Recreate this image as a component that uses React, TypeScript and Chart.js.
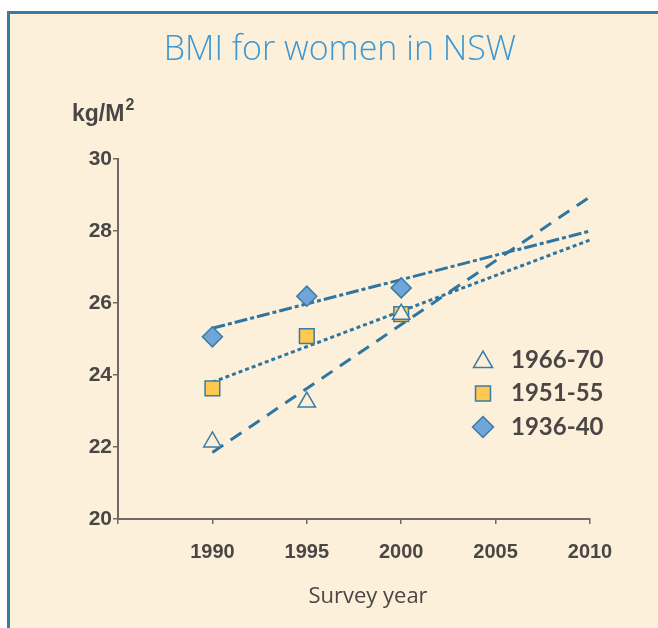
import React, { useEffect, useRef } from 'react';
import { Chart, registerables } from 'chart.js';
import { drawPoint } from 'chart.js/helpers';

Chart.register(...registerables);

const titleText = 'BMI for women in NSW';
const yUnit = 'kg/M';
const yUnitSup = '2';
const xTitle = 'Survey year';
const surveyYears = [1990, 1995, 2000];
const seriesLabels = ['1966-70', '1951-55', '1936-40'];
const bmi196670 = [22.14, 23.25, 25.69];
const bmi195155 = [23.63, 25.08, 25.69];
const bmi193640 = [25.06, 26.19, 26.42];
const trendYears = [1990, 2010];
const trend196670 = [21.85, 28.95];
const trend195155 = [23.8, 27.75];
const trend193640 = [25.3, 28.0];
const xTickLabels = [1990, 1995, 2000, 2005, 2010];

const CREAM = '#FDF0DB';
const FRAME = '#3C7BA0';
const LINE = '#2E76A0';
const MARK_BORDER = '#3A7CA5';
const TEXT = '#4B4646';
const AXIS = '#6E6964';

const toPts = (xs: number[], ys: number[]) => xs.map((x, i) => ({ x, y: ys[i] }));

const markerStyles = [
  { pointStyle: 'triangle', fill: CREAM, radius: 10, legendRadius: 11 },
  { pointStyle: 'rect', fill: '#FFC850', radius: 10.4, legendRadius: 10.6 },
  { pointStyle: 'rectRot', fill: '#6FA5D8', radius: 10, legendRadius: 10.5 },
];

const textPlugin = {
  id: 'texts',
  afterDraw(chart: any) {
    const ctx = chart.ctx as CanvasRenderingContext2D;
    ctx.save();
    // title
    ctx.fillStyle = '#3A98D5';
    ctx.font = '300 34px "Open Sans"';
    ctx.textAlign = 'center';
    ctx.textBaseline = 'alphabetic';
    ctx.fillText(titleText, 340, 60);
    // y unit
    ctx.fillStyle = TEXT;
    ctx.textAlign = 'left';
    ctx.font = 'bold 23px "Liberation Sans"';
    ctx.fillText(yUnit, 72, 121);
    const w = ctx.measureText(yUnit).width;
    ctx.font = 'bold 16px "Liberation Sans"';
    ctx.fillText(yUnitSup, 72 + w + 1, 110);
    // x title
    ctx.font = '22px "Open Sans"';
    ctx.textAlign = 'center';
    ctx.textBaseline = 'middle';
    ctx.fillText(xTitle, 368, 597);
    // legend
    const rows = [360, 393.5, 427];
    seriesLabels.forEach((lab, i) => {
      const m = markerStyles[i];
      ctx.fillStyle = m.fill;
      ctx.strokeStyle = MARK_BORDER;
      ctx.lineWidth = 1.5;
      drawPoint(ctx, { pointStyle: m.pointStyle as any, rotation: 0, radius: m.legendRadius, borderWidth: 1.5 }, 483, rows[i] + (i === 0 ? 2 : 0));
      ctx.fillStyle = TEXT;
      ctx.font = 'bold 24px Lato';
      ctx.textAlign = 'left';
      ctx.textBaseline = 'middle';
      ctx.fillText(lab, 511, rows[i]);
    });
    ctx.restore();
  },
};

export default function App() {
  const ref = useRef<HTMLCanvasElement>(null);
  useEffect(() => {
    const seriesData = [bmi196670, bmi195155, bmi193640];
    const trends = [trend196670, trend195155, trend193640];
    const dashes = [[13, 9], [4, 3], [13, 3, 4, 3]];
    const datasets: any[] = [];
    seriesData.forEach((vals, i) => {
      const m = markerStyles[i];
      datasets.push({
        label: seriesLabels[i],
        data: toPts(surveyYears, vals),
        showLine: false,
        pointStyle: m.pointStyle,
        pointRadius: m.radius,
        pointBackgroundColor: m.fill,
        pointBorderColor: MARK_BORDER,
        pointBorderWidth: 1.5,
        order: 0,
      });
    });
    trends.forEach((vals, i) => {
      datasets.push({
        label: seriesLabels[i] + ' trend',
        data: toPts(trendYears, vals),
        showLine: true,
        borderColor: LINE,
        borderWidth: 3,
        borderDash: dashes[i],
        pointRadius: 0,
        order: 1,
      });
    });
    const chart = new Chart(ref.current!, {
      type: 'scatter',
      data: { datasets },
      options: {
        responsive: false,
        animation: false,
        layout: { padding: { top: 159, right: 68, left: 0, bottom: 0 } },
        plugins: { legend: { display: false }, tooltip: { enabled: false }, title: { display: false } },
        scales: {
          x: {
            type: 'linear',
            min: 1985,
            max: 2010,
            afterFit: (s: any) => { s.height = 109; },
            afterBuildTicks: (s: any) => { s.ticks = [1985, ...xTickLabels].map((v) => ({ value: v })); },
            ticks: {
              callback: (v: any) => (xTickLabels.includes(Number(v)) ? String(v) : ''),
              color: TEXT,
              font: { family: '"Liberation Sans"', size: 20, weight: 'bold' },
              padding: 16,
              maxRotation: 0,
              autoSkip: false,
            },
            grid: { drawOnChartArea: false, drawTicks: true, tickLength: 5, color: AXIS, lineWidth: 1.5 },
            border: { color: AXIS, width: 2 },
          },
          y: {
            type: 'linear',
            min: 20,
            max: 30,
            afterFit: (s: any) => { s.width = 118; },
            ticks: {
              stepSize: 2,
              color: TEXT,
              font: { family: '"Liberation Sans"', size: 21, weight: 'bold' },
              padding: 1,
            },
            grid: { drawOnChartArea: false, drawTicks: true, tickLength: 5, color: AXIS, lineWidth: 1.5 },
            border: { color: AXIS, width: 2 },
          },
        },
      },
      plugins: [textPlugin],
    } as any);
    return () => chart.destroy();
  }, []);
  return (
    <div style={{ position: 'fixed', left: 0, top: 0, width: 658, height: 628, background: '#fff', overflow: 'hidden' }}>
      <div style={{ position: 'absolute', left: 7, top: 11, width: 700, height: 700, background: CREAM, borderTop: `3px solid ${FRAME}`, borderLeft: `3px solid ${FRAME}` }} />
      <canvas ref={ref} width={658} height={628} style={{ position: 'absolute', left: 0, top: 0, width: 658, height: 628 }} />
    </div>
  );
}
